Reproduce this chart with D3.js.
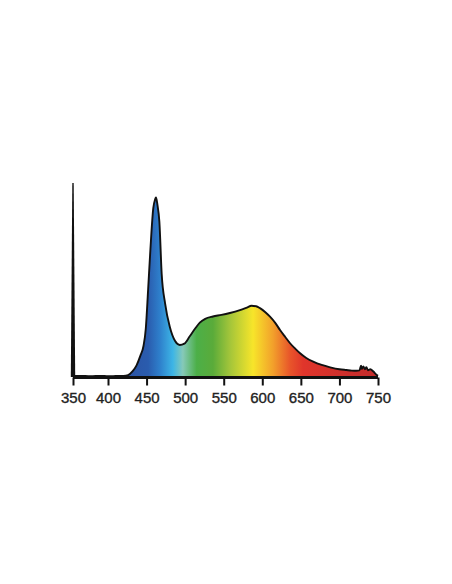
<!DOCTYPE html>
<html>
<head>
<meta charset="utf-8">
<script src="https://cdn.jsdelivr.net/npm/d3@7"></script>
<style>
  html, body { margin: 0; padding: 0; background: #fff; }
  svg { display: block; }
</style>
</head>
<body>
<div id="chart"></div>
<script>
'use strict'

const WIDTH = 452
const HEIGHT = 584

// spectrum (wavelength nm, relative intensity)
const wavelengths = [350, 360, 375, 390, 400, 410, 420, 426, 432, 437, 442, 446, 449, 452, 455, 458.7, 461, 462.2, 464, 466.6, 469.6, 474, 480, 487, 493, 499, 506, 513, 519, 526, 536, 547, 558, 571, 580, 586, 592, 597, 604, 610, 617, 623, 630, 636, 643, 649, 657, 666, 677, 688, 700, 709, 716, 722, 726, 728, 729, 731, 733, 735, 737, 740, 744, 748, 750]
const intensities = [0.005, 0.006, 0.004, 0.006, 0.004, 0.005, 0.006, 0.01, 0.03, 0.06, 0.11, 0.16, 0.25, 0.45, 0.66, 0.87, 0.915, 0.925, 0.89, 0.8, 0.53, 0.38, 0.26, 0.185, 0.165, 0.172, 0.21, 0.25, 0.28, 0.3, 0.312, 0.32, 0.33, 0.345, 0.358, 0.367, 0.365, 0.355, 0.334, 0.311, 0.278, 0.242, 0.205, 0.174, 0.145, 0.122, 0.098, 0.079, 0.062, 0.05, 0.04, 0.036, 0.033, 0.032, 0.034, 0.058, 0.042, 0.055, 0.04, 0.05, 0.035, 0.04, 0.028, 0.012, 0.006]

const xTicks = [350, 400, 450, 500, 550, 600, 650, 700, 750]

// fill colours along the spectrum
const colorStops = [430, 452, 467, 484, 497, 515, 536, 558, 588, 614, 636, 653, 710, 750]
const colorValues = ['#2b55a6', '#2a5cae', '#2e7fcb', '#3db5e6', '#86c9b8', '#4caf48', '#5aab3a', '#a3c53a', '#f7e52a', '#f2a02b', '#e8552a', '#e0352b', '#cc2f2c', '#c42d2c']

const svg = d3.select('#chart').append('svg')
  .attr('width', WIDTH)
  .attr('height', HEIGHT)

const x = d3.scaleLinear()
  .domain([350, 400, 750])
  .range([73, 108, 378])

const y = d3.scaleLinear()
  .domain([0, 1])
  .range([377, 183])

const data = wavelengths.map((w, i) => ({ w: w, v: intensities[i] }))

const grad = svg.append('defs').append('linearGradient')
  .attr('id', 'spectrum')
  .attr('gradientUnits', 'userSpaceOnUse')
  .attr('x1', x(350)).attr('x2', x(750))
  .attr('y1', 0).attr('y2', 0)

grad.selectAll('stop')
  .data(colorStops)
  .enter().append('stop')
  .attr('offset', d => (x(d) - x(350)) / (x(750) - x(350)))
  .attr('stop-color', (d, i) => colorValues[i])

const area = d3.area()
  .x(d => x(d.w))
  .y0(y(0))
  .y1(d => y(d.v))
  .curve(d3.curveMonotoneX)

const line = d3.line()
  .x(d => x(d.w))
  .y(d => y(d.v))
  .curve(d3.curveMonotoneX)

svg.append('path')
  .datum(data)
  .attr('fill', 'url(#spectrum)')
  .attr('d', area)

svg.append('path')
  .datum(data)
  .attr('fill', 'none')
  .attr('stroke', '#111')
  .attr('stroke-width', 1.9)
  .attr('stroke-linejoin', 'round')
  .attr('d', line)

// vertical spike at the left edge
svg.append('path')
  .attr('d', 'M' + (x(350) - 2.2) + ',' + y(0) + 'L' + (x(350) - 0.7) + ',' + y(1) +
    'L' + (x(350) + 0.7) + ',' + y(1) + 'L' + (x(350) + 2.2) + ',' + y(0) + 'Z')
  .attr('fill', '#111')

const xAxis = svg.append('g')
  .attr('transform', 'translate(0,' + (y(0) + 0.5) + ')')
  .call(d3.axisBottom(x).tickValues(xTicks).tickSize(8).tickPadding(7).tickFormat(d3.format('d')))

xAxis.select('.domain')
  .attr('stroke', '#111')
  .attr('stroke-width', 3)
  .attr('d', 'M' + x(350) + ',0H' + x(750))

xAxis.selectAll('.tick line')
  .attr('stroke', '#111')
  .attr('stroke-width', 2)

xAxis.selectAll('.tick text')
  .attr('fill', '#222')
  .attr('stroke', '#222')
  .attr('stroke-width', 0.35)
  .style('font-family', 'Liberation Sans, Arial, sans-serif')
  .style('font-size', '15px')
</script>
</body>
</html>
